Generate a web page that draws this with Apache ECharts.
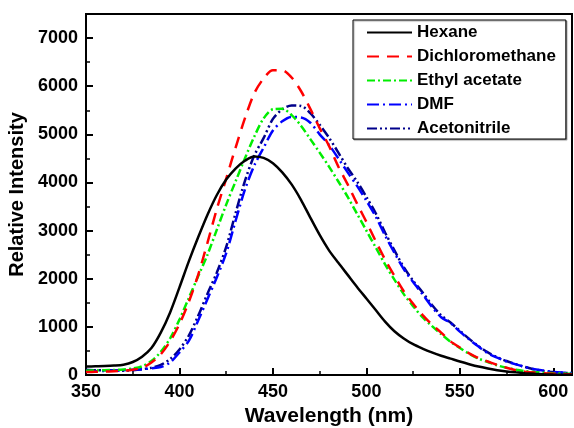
<!DOCTYPE html>
<html>
<head>
<meta charset="utf-8">
<script src="https://cdn.jsdelivr.net/npm/echarts@6/dist/echarts.min.js"></script>
<style>
html,body{margin:0;padding:0;background:#fff;}
#chart{width:574px;height:428px;}
</style>
</head>
<body>
<div id="chart"></div>
<script>
var wavelengths = [350,355,360,365,370,375,380,385,390,395,400,405,410,415,420,425,430,435,440,445,450,455,460,465,470,475,480,485,490,495,500,505,510,515,520,525,530,535,540,545,550,555,560,565,570,575,580,585,590,595,600,605,610];

var hexane = [175,180,185,195,215,270,380,560,880,1300,1820,2360,2860,3330,3740,4060,4290,4450,4540,4510,4400,4210,3960,3640,3270,2910,2590,2330,2080,1830,1590,1350,1110,910,760,640,550,470,400,340,280,225,175,135,100,75,55,38,25,16,10,6,4];

var dichloromethane = [60,65,70,80,90,110,150,260,430,700,1060,1520,2080,2750,3450,4080,4720,5330,5850,6160,6330,6330,6180,5900,5530,5130,4760,4330,3960,3560,3180,2780,2400,2060,1740,1480,1250,1050,880,700,570,450,350,280,210,150,100,70,50,35,25,20,15];

var ethylAcetate = [90,95,100,105,115,135,180,290,480,760,1150,1600,2050,2500,3020,3540,4020,4500,4950,5330,5520,5530,5400,5180,4900,4620,4330,4020,3700,3350,3000,2650,2300,1980,1680,1430,1200,1020,850,690,560,440,340,270,200,150,110,80,60,45,35,30,25];

var dmf = [70,80,85,90,100,110,120,140,165,260,470,710,1130,1580,2030,2530,3200,3850,4350,4720,5080,5270,5360,5350,5240,5000,4780,4500,4210,3930,3620,3290,2900,2540,2200,1930,1680,1420,1200,1080,900,740,590,450,360,280,220,165,120,90,65,50,40];

var acetonitrile = [110,100,100,95,90,100,120,150,210,330,530,820,1230,1690,2130,2660,3360,4030,4560,4920,5320,5520,5600,5590,5440,5200,4930,4620,4300,4020,3700,3360,2960,2590,2240,1960,1720,1460,1240,1090,920,750,600,470,370,290,225,165,115,85,60,45,35];

var seriesNames = ['Hexane','Dichloromethane','Ethyl acetate','DMF','Acetonitrile'];
var seriesValues = [hexane, dichloromethane, ethylAcetate, dmf, acetonitrile];
var seriesColors = ['#000000','#ff0000','#00ee00','#0000ff','#00008b'];
var seriesDash = ['solid',[12,8],[8,3,2,3],[12,4,2,4],[10,3,2,3,2,3]];

var FONT = '"Liberation Sans", Arial, Helvetica, sans-serif';

function pairs(vals){
  var out = [];
  for (var i = 0; i < wavelengths.length; i++) out.push([wavelengths[i], vals[i]]);
  return out;
}

var series = seriesNames.map(function(n, i){
  return {
    name: n,
    type: 'line',
    xAxisIndex: 0,
    yAxisIndex: 0,
    data: pairs(seriesValues[i]),
    showSymbol: false,
    symbol: 'none',
    smooth: 0.3,
    z: 10 - i,
    lineStyle: { color: seriesColors[i], width: 2.5, type: seriesDash[i] },
    itemStyle: { color: seriesColors[i] }
  };
});

var chart = echarts.init(document.getElementById('chart'), null, {renderer: 'canvas'});
chart.setOption({
  animation: false,
  backgroundColor: '#fff',
  grid: { left: 86, right: 2, top: 14, bottom: 53, show: true, borderColor: '#000', borderWidth: 2,
          backgroundColor: 'transparent', containLabel: false, outerBoundsMode: 'none' },
  legend: {
    orient: 'vertical', left: 353, top: 20,
    data: seriesNames,
    itemWidth: 45, itemHeight: 12, itemGap: 7,
    padding: [4, 10, 2, 13],
    borderColor: '#000', borderWidth: 1,
    backgroundColor: '#fff',
    shadowColor: 'rgba(0,0,0,0.35)', shadowOffsetX: 1, shadowOffsetY: 1, shadowBlur: 1,
    itemStyle: { color: 'rgba(0,0,0,0)', borderColor: 'rgba(0,0,0,0)', borderWidth: 0, opacity: 0 },
    textStyle: { fontFamily: FONT, fontWeight: 'bold', fontSize: 17, color: '#000' }
  },
  xAxis: [{
    type: 'value', min: 350, max: 610, interval: 50,
    name: 'Wavelength (nm)', nameLocation: 'middle', nameGap: 31,
    nameTextStyle: { fontFamily: FONT, fontWeight: 'bold', fontSize: 21, color: '#000' },
    axisLine: { lineStyle: { color: '#000', width: 2 } },
    axisTick: { inside: true, length: 7, lineStyle: { color: '#000', width: 2 } },
    axisLabel: { fontFamily: FONT, fontWeight: 'bold', fontSize: 18, color: '#000', margin: 8, showMaxLabel: false,
                 formatter: function(v){ return String(v); } },
    splitLine: { show: false }
  }, {
    type: 'value', min: 350, max: 610, interval: 25, position: 'bottom',
    axisLine: { show: false },
    axisTick: { inside: true, length: 4, lineStyle: { color: '#000', width: 1.5 } },
    axisLabel: { show: false },
    splitLine: { show: false }
  }],
  yAxis: [{
    type: 'value', min: 0, max: 7500, interval: 1000,
    name: 'Relative Intensity', nameLocation: 'middle', nameGap: 56, nameRotate: 90,
    nameTextStyle: { fontFamily: FONT, fontWeight: 'bold', fontSize: 20, color: '#000' },
    axisLine: { lineStyle: { color: '#000', width: 2 } },
    axisTick: { inside: true, length: 7, lineStyle: { color: '#000', width: 2 } },
    axisLabel: { fontFamily: FONT, fontWeight: 'bold', fontSize: 18, color: '#000', margin: 8, showMaxLabel: false,
                 formatter: function(v){ return String(v); } },
    splitLine: { show: false }
  }, {
    type: 'value', min: 0, max: 7500, interval: 500, position: 'left',
    axisLine: { show: false },
    axisTick: { inside: true, length: 4, lineStyle: { color: '#000', width: 1.5 } },
    axisLabel: { show: false },
    splitLine: { show: false }
  }],
  series: series
});
</script>
</body>
</html>
